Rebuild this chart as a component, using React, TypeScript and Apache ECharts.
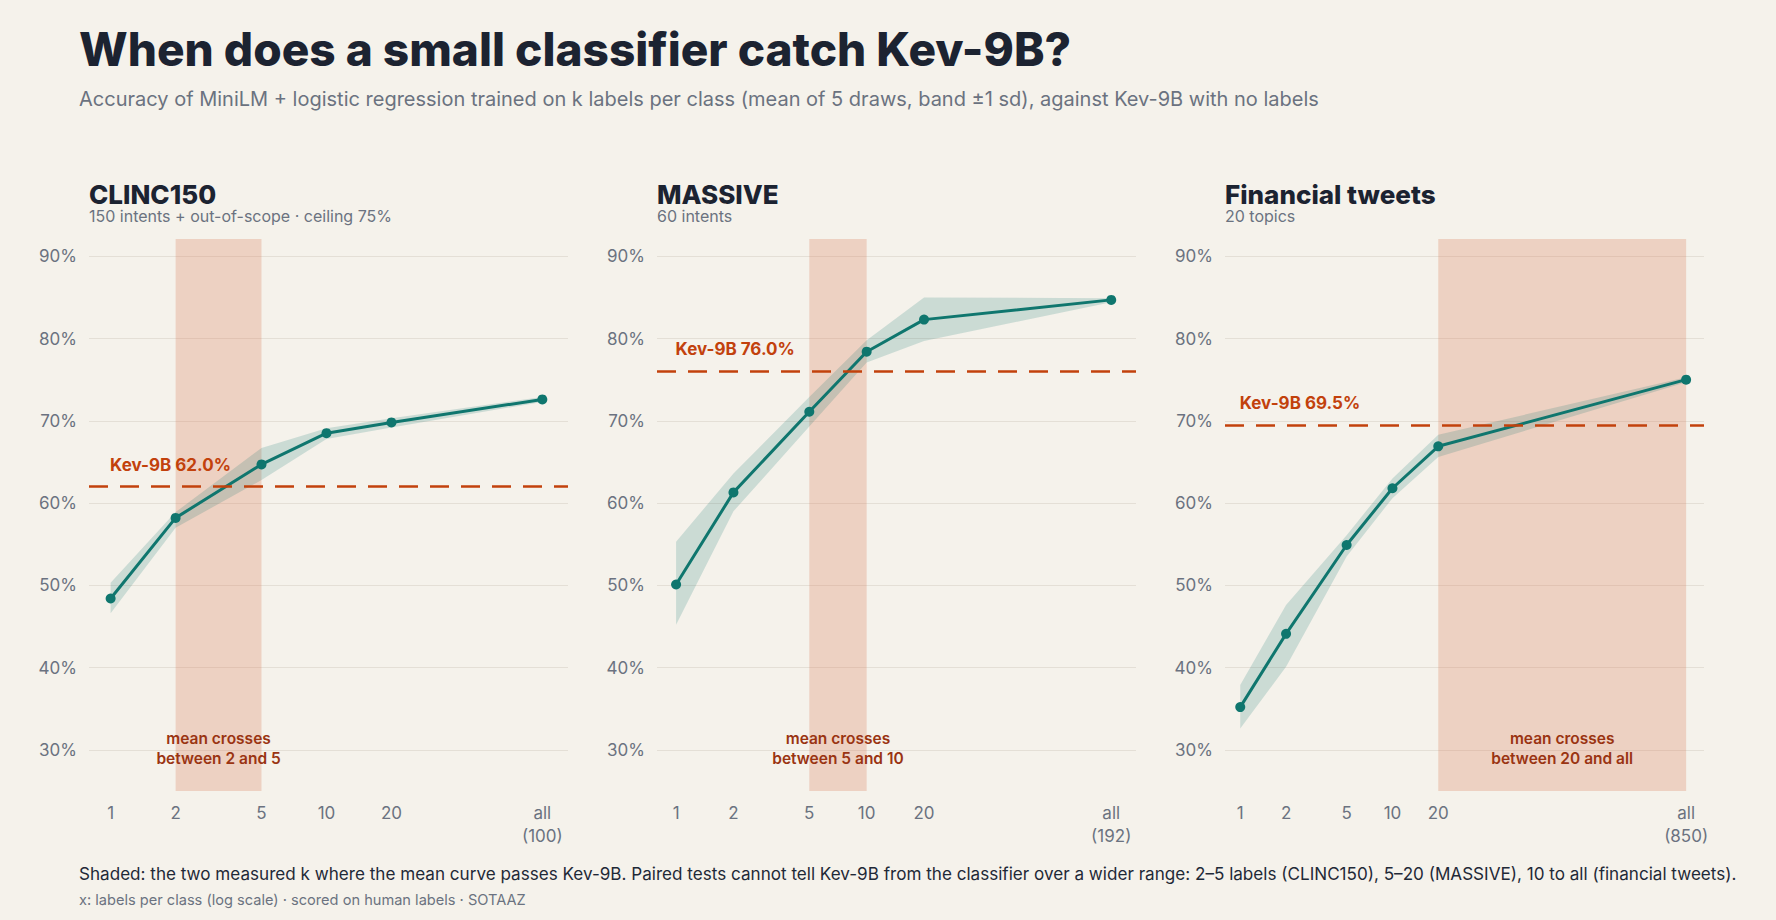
import React, { useEffect, useRef } from 'react';
import * as echarts from 'echarts';

const TITLE = 'When does a small classifier catch Kev-9B?';
const SUBTITLE =
  'Accuracy of MiniLM + logistic regression trained on k labels per class (mean of 5 draws, band ±1 sd), against Kev-9B with no labels';
const FOOTNOTE =
  'Shaded: the two measured k where the mean curve passes Kev-9B. Paired tests cannot tell Kev-9B from the classifier over a wider range: 2–5 labels (CLINC150), 5–20 (MASSIVE), 10 to all (financial tweets).';
const SOURCE = 'x: labels per class (log scale) · scored on human labels · SOTAAZ';

const PANEL_NAMES = ['CLINC150', 'MASSIVE', 'Financial tweets'];
const PANEL_NOTES = ['150 intents + out-of-scope · ceiling 75%', '60 intents', '20 topics'];

const CLINC_K = [1, 2, 5, 10, 20, 100];
const CLINC_MEAN = [48.4, 58.2, 64.7, 68.5, 69.8, 72.6];
const CLINC_LO = [46.6, 57.0, 62.8, 67.8, 69.2, 72.3];
const CLINC_HI = [50.3, 58.9, 66.7, 69.1, 70.3, 72.9];

const MASSIVE_K = [1, 2, 5, 10, 20, 192];
const MASSIVE_MEAN = [50.1, 61.3, 71.1, 78.4, 82.3, 84.7];
const MASSIVE_LO = [45.2, 59.0, 69.3, 77.1, 79.7, 84.4];
const MASSIVE_HI = [55.3, 63.6, 72.9, 79.8, 85.0, 84.9];

const FIN_K = [1, 2, 5, 10, 20, 850];
const FIN_MEAN = [35.2, 44.1, 54.9, 61.8, 66.9, 75.0];
const FIN_LO = [32.6, 40.1, 53.5, 60.6, 65.6, 74.7];
const FIN_HI = [37.9, 47.6, 56.1, 63.0, 68.3, 75.3];

const KEV_SCORES = [62.0, 76.0, 69.5];
const CROSS_FROM = [2, 5, 20];
const CROSS_TO = [5, 10, 850];
const CROSS_TO_LABEL = ['5', '10', 'all'];

const Y_TICKS = [30, 40, 50, 60, 70, 80, 90];

const FONT = 'Inter, "Noto Sans", sans-serif';
const BG = '#f5f2eb';
const TEAL = '#0f766e';
const BAND = 'rgba(15,118,110,0.18)';
const KEV = '#c2410c';
const CROSS_TXT = '#9a3412';
const GRAY = '#6b7280';
const DARK = '#1c2331';

const GRID_LEFT0 = 89;
const GRID_STEP = 568;
const GRID_W = 479;
const GRID_TOP = 239;
const GRID_H = 552;
const X_MIN = 0.794;
const X_MAX = [131.5, 259, 1114];

export default function App() {
  const ref = useRef<HTMLDivElement>(null);

  useEffect(() => {
    document.body.style.margin = '0';
    document.body.style.background = BG;
    if (!ref.current) return;
    const chart = echarts.init(ref.current, undefined, { renderer: 'svg' });

    const panels = [
      { k: CLINC_K, mean: CLINC_MEAN, lo: CLINC_LO, hi: CLINC_HI },
      { k: MASSIVE_K, mean: MASSIVE_MEAN, lo: MASSIVE_LO, hi: MASSIVE_HI },
      { k: FIN_K, mean: FIN_MEAN, lo: FIN_LO, hi: FIN_HI },
    ];

    const grid = panels.map((_, i) => ({
      left: GRID_LEFT0 + GRID_STEP * i,
      top: GRID_TOP,
      width: GRID_W,
      height: GRID_H,
      outerBoundsMode: 'none',
    }));

    const xAxis = panels.map((p, i) => {
      const all = p.k[p.k.length - 1];
      return {
        type: 'log',
        logBase: 10,
        gridIndex: i,
        min: X_MIN,
        max: X_MAX[i],
        axisLine: { show: false },
        axisTick: { show: false, customValues: p.k },
        splitLine: { show: false },
        axisLabel: {
          customValues: p.k,
          formatter: (v: number) => {
            const r = Math.round(v);
            return r === all ? `all\n(${all})` : String(r);
          },
          color: GRAY,
          fontSize: 17,
          lineHeight: 23,
          margin: 10,
          fontFamily: FONT,
        },
      };
    });

    const yAxis = panels.map((_, i) => ({
      type: 'value',
      gridIndex: i,
      min: 25,
      max: 92.1,
      axisLine: { show: false },
      axisTick: { show: false, customValues: Y_TICKS },
      axisLabel: {
        customValues: Y_TICKS,
        formatter: '{value}%',
        color: GRAY,
        fontSize: 17,
        margin: 12,
        fontFamily: FONT,
      },
      splitLine: { show: true, lineStyle: { color: '#e4dfd6', width: 1 } },
    }));

    const series: any[] = [];
    panels.forEach((p, i) => {
      series.push({
        type: 'line',
        xAxisIndex: i,
        yAxisIndex: i,
        data: [],
        z: 1,
        silent: true,
        markArea: {
          silent: true,
          itemStyle: { color: 'rgba(217,132,98,0.3)' },
          label: {
            show: true,
            position: 'insideBottom',
            distance: 23,
            formatter: `mean crosses\nbetween ${CROSS_FROM[i]} and ${CROSS_TO_LABEL[i]}`,
            color: CROSS_TXT,
            fontSize: 15.5,
            fontWeight: 600,
            lineHeight: 19.5,
            align: 'center',
            fontFamily: FONT,
          },
          data: [[{ xAxis: CROSS_FROM[i] }, { xAxis: CROSS_TO[i] }]],
        },
        markLine: {
          silent: true,
          symbol: ['none', 'none'],
          label: { show: false },
          lineStyle: { color: KEV, width: 2.5, type: [19, 12] },
          data: [{ yAxis: KEV_SCORES[i] }],
        },
        markPoint: {
          silent: true,
          symbol: 'circle',
          symbolSize: 1,
          itemStyle: { color: 'rgba(0,0,0,0)' },
          label: {
            show: true,
            formatter: `Kev-9B ${KEV_SCORES[i].toFixed(1)}%`,
            position: [0, -13],
            align: 'left',
            verticalAlign: 'bottom',
            color: KEV,
            fontSize: 17,
            fontWeight: 700,
            fontFamily: FONT,
          },
          data: [{ coord: [p.k[0], KEV_SCORES[i]] }],
        },
      });
      series.push({
        type: 'custom',
        xAxisIndex: i,
        yAxisIndex: i,
        z: 2,
        silent: true,
        data: p.k.map((k, j) => [k, p.lo[j], p.hi[j]]),
        encode: { x: 0, y: [1, 2] },
        renderItem: (params: any, api: any) => {
          if (params.dataIndex !== 0) return null;
          const upper = p.k.map((k, j) => api.coord([k, p.hi[j]]));
          const lower = p.k.map((k, j) => api.coord([k, p.lo[j]])).reverse();
          return {
            type: 'polygon',
            shape: { points: upper.concat(lower) },
            style: { fill: BAND },
          };
        },
      });
      series.push({
        type: 'line',
        xAxisIndex: i,
        yAxisIndex: i,
        z: 3,
        silent: true,
        data: p.k.map((k, j) => [k, p.mean[j]]),
        symbol: 'circle',
        symbolSize: 10,
        lineStyle: { color: TEAL, width: 3 },
        itemStyle: { color: TEAL },
      });
    });

    const graphic: any[] = [
      {
        type: 'text',
        x: 79,
        y: 49,
        style: { text: TITLE, fontSize: 46, fontWeight: 800, fontFamily: FONT, fill: DARK, verticalAlign: 'middle' },
      },
      {
        type: 'text',
        x: 79,
        y: 99,
        style: { text: SUBTITLE, fontSize: 20, fontFamily: FONT, fill: GRAY, verticalAlign: 'middle' },
      },
      {
        type: 'text',
        x: 79,
        y: 873,
        style: { text: FOOTNOTE, fontSize: 17.1, fontFamily: FONT, fill: '#1f2937', verticalAlign: 'middle' },
      },
      {
        type: 'text',
        x: 79,
        y: 900,
        style: { text: SOURCE, fontSize: 14.6, fontFamily: FONT, fill: GRAY, verticalAlign: 'middle' },
      },
    ];
    PANEL_NAMES.forEach((name, i) => {
      const x = GRID_LEFT0 + GRID_STEP * i;
      graphic.push({
        type: 'text',
        x,
        y: 194,
        style: { text: name, fontSize: 26, fontWeight: 800, fontFamily: FONT, fill: DARK, verticalAlign: 'middle' },
      });
      graphic.push({
        type: 'text',
        x,
        y: 216,
        style: { text: PANEL_NOTES[i], fontSize: 16, fontFamily: FONT, fill: GRAY, verticalAlign: 'middle' },
      });
    });

    chart.setOption({
      animation: false,
      backgroundColor: BG,
      textStyle: { fontFamily: FONT },
      grid,
      xAxis,
      yAxis,
      series,
      graphic,
    });

    return () => chart.dispose();
  }, []);

  return <div ref={ref} style={{ width: 1776, height: 920 }} />;
}
